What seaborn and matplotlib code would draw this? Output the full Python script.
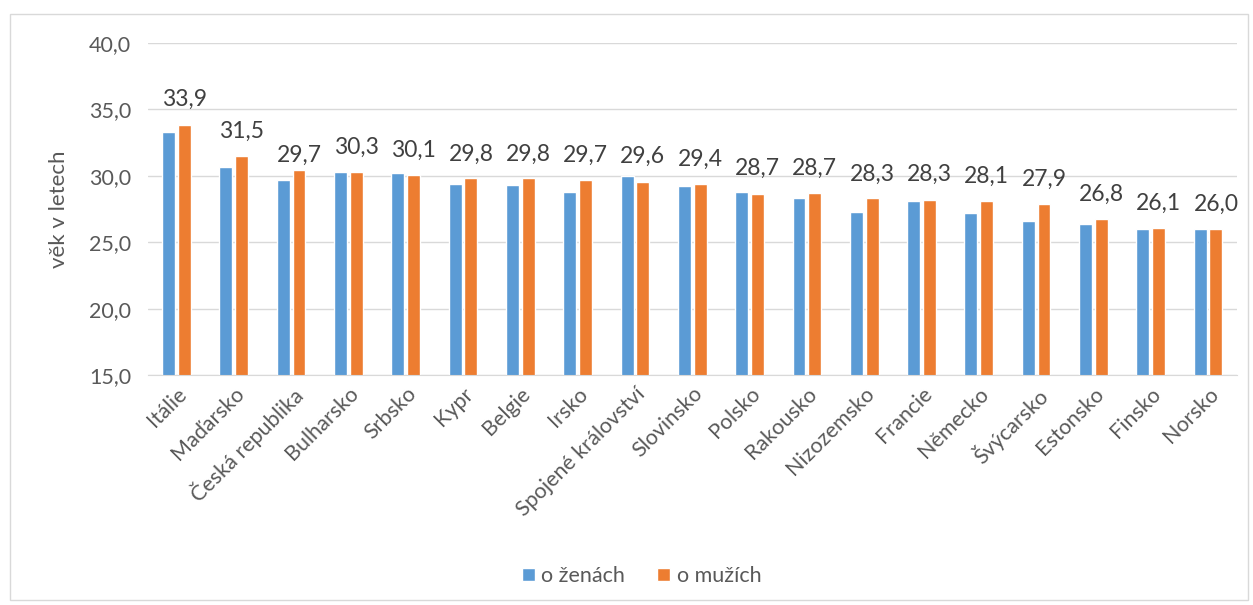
import pandas as pd
import seaborn as sns
import matplotlib.pyplot as plt
from matplotlib.patches import Rectangle
from matplotlib.ticker import FuncFormatter

# Average age at first marriage by country
countries = ['Itálie', 'Maďarsko', 'Česká republika', 'Bulharsko', 'Srbsko', 'Kypr',
             'Belgie', 'Irsko', 'Spojené království', 'Slovinsko', 'Polsko', 'Rakousko',
             'Nizozemsko', 'Francie', 'Německo', 'Švýcarsko', 'Estonsko', 'Finsko', 'Norsko']
women = [33.3, 30.7, 29.7, 30.3, 30.2, 29.4, 29.3, 28.8, 30.0, 29.2, 28.8, 28.3,
         27.3, 28.1, 27.2, 26.6, 26.4, 26.0, 26.0]
men = [33.85, 31.5, 30.4, 30.3, 30.05, 29.8, 29.8, 29.7, 29.5, 29.4, 28.65, 28.7,
       28.3, 28.2, 28.1, 27.9, 26.75, 26.1, 26.0]
labels = [33.9, 31.5, 29.7, 30.3, 30.1, 29.8, 29.8, 29.7, 29.6, 29.4, 28.7, 28.7,
          28.3, 28.3, 28.1, 27.9, 26.8, 26.1, 26.0]

df = pd.DataFrame({'Země': countries * 2,
                   'Věk': women + men,
                   'Pohlaví': ['o ženách'] * len(countries) + ['o mužích'] * len(countries)})

sns.set_style('white')
plt.rcParams['font.family'] = ['Lato', 'DejaVu Sans']

fig = plt.figure(figsize=(12.53, 6.05), dpi=100)
ax = fig.add_axes([0.118, 0.380, 0.869, 0.549])

sns.barplot(data=df, x='Země', y='Věk', hue='Pohlaví',
            palette=['#5B9BD5', '#ED7D31'], width=0.55, gap=0.18,
            saturation=1, ax=ax)

ax.set_ylim(15, 40)
ax.set_xlim(-0.5, len(countries) - 0.5)
ax.set_yticks([15, 20, 25, 30, 35, 40])
ax.yaxis.set_major_formatter(FuncFormatter(lambda v, p: f'{v:.1f}'.replace('.', ',')))
ax.grid(axis='y', color='#d9d9d9', linewidth=1)
ax.set_axisbelow(True)
for s in ['top', 'right', 'left']:
    ax.spines[s].set_visible(False)
ax.spines['bottom'].set_color('#d9d9d9')
ax.tick_params(axis='both', length=0, labelsize=15.5, labelcolor='#595959')
ax.tick_params(axis='y', pad=12)
ax.tick_params(axis='x', pad=6)
plt.setp(ax.get_xticklabels(), rotation=45, ha='right', rotation_mode='anchor')
ax.set_xlabel('')
ax.set_ylabel('věk v letech', fontsize=16, color='#595959')
ax.yaxis.set_label_coords(-0.072, 0.5)

# data labels above the men's bars
for i, v in enumerate(labels):
    ax.annotate(f'{v:.1f}'.replace('.', ','), (i + 0.1375, v), xytext=(0, 10),
                textcoords='offset points', ha='center', va='bottom',
                fontsize=16.5, color='#404040')

ax.legend(loc='center', bbox_to_anchor=(0.512, 0.048), bbox_transform=fig.transFigure,
          ncol=2, frameon=False, fontsize=15.5, handlelength=0.6, handleheight=0.6,
          columnspacing=1.5, handletextpad=0.3, labelcolor='#595959')

fig.patches.append(Rectangle((10 / 1253, 5 / 605), 1238 / 1253, 586 / 605,
                             transform=fig.transFigure, fill=False,
                             edgecolor='#d9d9d9', linewidth=1))

plt.savefig('out.png', dpi=100)
